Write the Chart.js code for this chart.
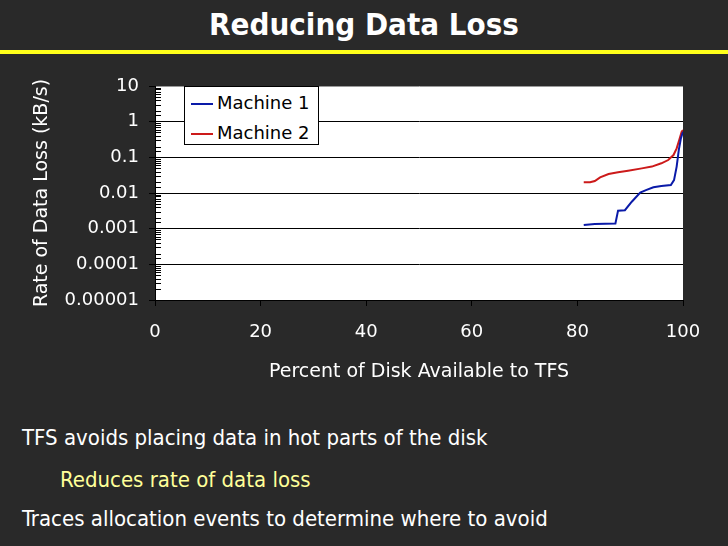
<!DOCTYPE html>
<html>
<head>
<meta charset="utf-8">
<script src="https://cdn.jsdelivr.net/npm/chart.js@4"></script>
<style>
  html, body { margin: 0; padding: 0; }
  body { width: 728px; height: 546px; background: #292929; position: relative; overflow: hidden;
         font-family: "DejaVu Sans", Verdana, sans-serif; color: #fff; }
  #title { position: absolute; left: 0; top: 5px; width: 728px; text-align: center;
           font-family: "DejaVu Sans Condensed", "DejaVu Sans", sans-serif; font-stretch: condensed;
           font-weight: bold; font-size: 31px; line-height: 38px; }
  #rule { position: absolute; left: 0; top: 50px; width: 728px; height: 4px; background: #ffff1a; }
  #wrap { position: absolute; left: 0; top: 60px; width: 728px; height: 330px; }
  .line { position: absolute; font-family: "DejaVu Sans Condensed", "DejaVu Sans", sans-serif;
          font-stretch: condensed; font-size: 22px; line-height: 26px; white-space: nowrap; }
  #legend { position: absolute; left: 184px; top: 86px; width: 133px; height: 57px; background: #fff;
            border: 1px solid #000; color: #000; font-size: 18px; }
  .item { position: absolute; left: 6px; height: 20px; line-height: 20px; }
  .item span { display: inline-block; width: 22px; height: 2px; vertical-align: middle; margin-right: 4px; }
</style>
</head>
<body>
<div id="title">Reducing Data Loss</div>
<div id="rule"></div>
<div id="wrap"><canvas id="chart"></canvas></div>
<div id="legend">
  <div class="item" style="top:6px"><span style="background:#0a1aa8"></span>Machine 1</div>
  <div class="item" style="top:36px"><span style="background:#cc1a1a"></span>Machine 2</div>
</div>
<div class="line" style="left:22px; top:425px">TFS avoids placing data in hot parts of the disk</div>
<div class="line" style="left:60px; top:467px; color:#ffff99">Reduces rate of data loss</div>
<div class="line" style="left:22px; top:506px">Traces allocation events to determine where to avoid</div>

<script>
// percent of disk available to TFS
const xMachine1 = [81.2, 83.3, 87.2, 87.7, 89.0, 90.3, 91.9, 93.1, 94.4, 95.9, 97.7, 98.3, 98.8, 99.2, 99.6, 100];
const yMachine1 = [0.00127, 0.00135, 0.0014, 0.0032, 0.0033, 0.0057, 0.0103, 0.0122, 0.0145, 0.0158, 0.0168, 0.023, 0.055, 0.16, 0.34, 0.52];

const xMachine2 = [81.2, 82.4, 83.3, 84.3, 85.9, 87.7, 89.6, 92.2, 94.1, 95.9, 97.2, 98.2, 98.8, 99.3, 99.75, 100];
const yMachine2 = [0.020, 0.020, 0.0217, 0.0275, 0.034, 0.038, 0.042, 0.049, 0.055, 0.068, 0.084, 0.116, 0.178, 0.31, 0.52, 0.58];

const xTicks = [0, 20, 40, 60, 80, 100];
const yTickLabels = ['0.00001', '0.0001', '0.001', '0.01', '0.1', '1', '10'];

const points = (xs, ys) => xs.map((x, i) => ({x: x, y: ys[i]}));
const isDecade = v => Math.abs(Math.log10(v) - Math.round(Math.log10(v))) < 1e-6;
const font = {family: '"DejaVu Sans", Verdana, sans-serif', size: 18};
const titleFont = {family: '"DejaVu Sans", Verdana, sans-serif', size: 19};

// white plot area + minor ticks drawn inside the left edge
const plotArea = {
    id: 'plotArea',
    beforeDraw(chart) {
        const a = chart.chartArea, ctx = chart.ctx;
        ctx.save();
        ctx.fillStyle = '#fff';
        ctx.fillRect(a.left, a.top, a.right - a.left, a.bottom - a.top);
        ctx.restore();
    },
    afterDraw(chart) {
        const a = chart.chartArea, ctx = chart.ctx, y = chart.scales.y;
        ctx.save();
        ctx.strokeStyle = '#000';
        ctx.lineWidth = 1;
        y.ticks.forEach(t => {
            if (isDecade(t.value)) return;
            const py = Math.round(y.getPixelForValue(t.value)) + 0.5;
            ctx.beginPath();
            ctx.moveTo(a.left, py);
            ctx.lineTo(a.left + 6, py);
            ctx.stroke();
        });
        ctx.restore();
    }
};

new Chart(document.getElementById('chart'), {
    type: 'scatter',
    data: {
        datasets: [
            {
                label: 'Machine 1',
                data: points(xMachine1, yMachine1),
                showLine: true,
                borderColor: '#0a1aa8',
                borderWidth: 2,
                pointRadius: 0,
                tension: 0
            },
            {
                label: 'Machine 2',
                data: points(xMachine2, yMachine2),
                showLine: true,
                borderColor: '#cc1a1a',
                borderWidth: 2,
                pointRadius: 0,
                tension: 0
            }
        ]
    },
    plugins: [plotArea],
    options: {
        responsive: true,
        maintainAspectRatio: false,
        animation: false,
        layout: {
            padding: {left: 0, right: 45, top: 26, bottom: 0}
        },
        scales: {
            x: {
                type: 'linear',
                min: 0,
                max: 100,
                afterBuildTicks: s => { s.ticks = xTicks.map(v => ({value: v})); },
                afterFit: s => { s.height = 90; },
                border: {color: '#000', width: 1},
                grid: {drawOnChartArea: false, color: '#000', tickLength: 6},
                ticks: {color: '#fff', font: font, padding: 16, maxRotation: 0},
                title: {
                    display: true,
                    text: 'Percent of Disk Available to TFS',
                    color: '#fff',
                    font: titleFont,
                    padding: {top: 0, bottom: 7}
                }
            },
            y: {
                type: 'logarithmic',
                min: 0.00001,
                max: 10,
                afterFit: s => { s.width = 155; },
                border: {color: '#000', width: 1},
                grid: {
                    color: ctx => !isDecade(ctx.tick.value) ? 'rgba(0,0,0,0)' : (ctx.tick.value === 10 ? '#9a9a9a' : '#000'),
                    tickColor: ctx => isDecade(ctx.tick.value) ? '#000' : 'rgba(0,0,0,0)',
                    tickLength: 6
                },
                ticks: {
                    color: '#fff',
                    font: font,
                    padding: 10,
                    autoSkip: false,
                    callback: v => isDecade(v) ? yTickLabels[Math.round(Math.log10(v)) + 5] : ''
                },
                title: {
                    display: true,
                    text: 'Rate of Data Loss (kB/s)',
                    color: '#fff',
                    font: titleFont,
                    padding: {top: 31, bottom: 0}
                }
            }
        },
        plugins: {
            legend: {display: false},
            tooltip: {enabled: false}
        }
    }
});
</script>
</body>
</html>
